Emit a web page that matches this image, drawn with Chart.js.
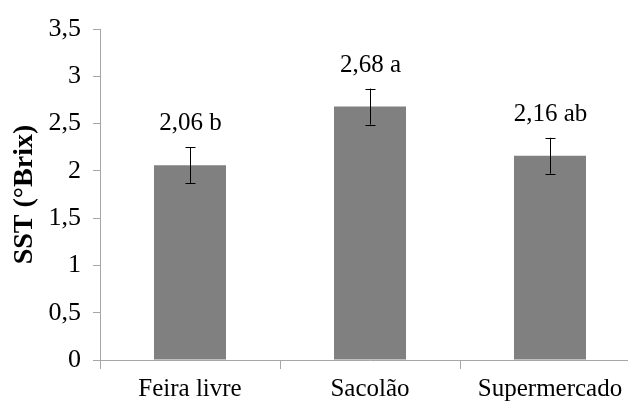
<!DOCTYPE html>
<html>
<head>
<meta charset="utf-8">
<script src="https://cdn.jsdelivr.net/npm/chart.js@4/dist/chart.umd.min.js"></script>
<style>
  html, body { margin: 0; padding: 0; background: #fff; overflow: hidden; }
  #wrap { width: 628px; height: 401px; overflow: hidden; }
  canvas { display: block; }
</style>
</head>
<body>
<div id="wrap"><canvas id="c" width="640" height="401"></canvas></div>
<script>
// Soluble solids (°Brix) by place of purchase
const categories = ['Feira livre', 'Sacolão', 'Supermercado'];
const means = [2.06, 2.68, 2.16];
const errors = [0.19, 0.19, 0.19];
const letters = ['b', 'a', 'ab'];
const yTicks = [0, 0.5, 1, 1.5, 2, 2.5, 3, 3.5];

const FONT = "'Liberation Serif', 'Times New Roman', serif";
const AXIS_GRAY = '#a6a6a6';

const fmt = v => String(v).replace('.', ',');

// Error bars and value labels drawn on top of the bars
const annotate = {
  id: 'annotate',
  afterDatasetsDraw(chart) {
    const { ctx, scales: { x, y } } = chart;
    ctx.save();
    ctx.strokeStyle = '#000';
    ctx.lineWidth = 1;
    means.forEach((m, i) => {
      const cx = Math.round(x.getPixelForValue(i)) + 0.5;
      const top = y.getPixelForValue(m + errors[i]);
      const bot = y.getPixelForValue(m - errors[i]);
      ctx.beginPath();
      ctx.moveTo(cx, top); ctx.lineTo(cx, bot);
      ctx.moveTo(cx - 5, Math.round(top) + 0.5); ctx.lineTo(cx + 5, Math.round(top) + 0.5);
      ctx.moveTo(cx - 5, Math.round(bot) + 0.5); ctx.lineTo(cx + 5, Math.round(bot) + 0.5);
      ctx.stroke();

      ctx.fillStyle = '#000';
      ctx.font = '25px ' + FONT;
      ctx.textAlign = 'center';
      ctx.textBaseline = 'alphabetic';
      ctx.fillText(fmt(m.toFixed(2)) + ' ' + letters[i], cx, top - 17);
    });
    ctx.restore();
  }
};

new Chart(document.getElementById('c'), {
  type: 'bar',
  data: {
    labels: categories,
    datasets: [{
      data: means,
      backgroundColor: '#808080',
      borderWidth: 0,
      barPercentage: 0.4,
      categoryPercentage: 1.0
    }]
  },
  options: {
    responsive: false,
    animation: false,
    events: [],
    layout: { padding: { top: 29, left: 0, right: 0, bottom: 0 } },
    plugins: { legend: { display: false }, tooltip: { enabled: false } },
    scales: {
      x: {
        offset: true,
        grid: {
          offset: true,
          drawOnChartArea: false,
          drawTicks: true,
          tickLength: 9,
          color: AXIS_GRAY
        },
        border: { color: AXIS_GRAY, width: 1 },
        ticks: {
          color: '#000',
          padding: 5,
          font: { family: FONT, size: 25 }
        },
        afterFit(scale) { scale.height = 41; }
      },
      y: {
        min: 0,
        max: 3.5,
        afterBuildTicks(scale) { scale.ticks = yTicks.map(v => ({ value: v })); },
        grid: {
          drawOnChartArea: false,
          drawTicks: true,
          tickLength: 7,
          color: AXIS_GRAY
        },
        border: { color: AXIS_GRAY, width: 1 },
        ticks: {
          color: '#000',
          padding: 12,
          font: { family: FONT, size: 26 },
          callback: v => fmt(v)
        },
        title: {
          display: true,
          text: 'SST (°Brix)',
          color: '#000',
          font: { family: FONT, size: 28, weight: 'bold' },
          padding: { top: 8, bottom: 0 }
        },
        afterFit(scale) { scale.width = 100; }
      }
    }
  },
  plugins: [annotate]
});
</script>
</body>
</html>
